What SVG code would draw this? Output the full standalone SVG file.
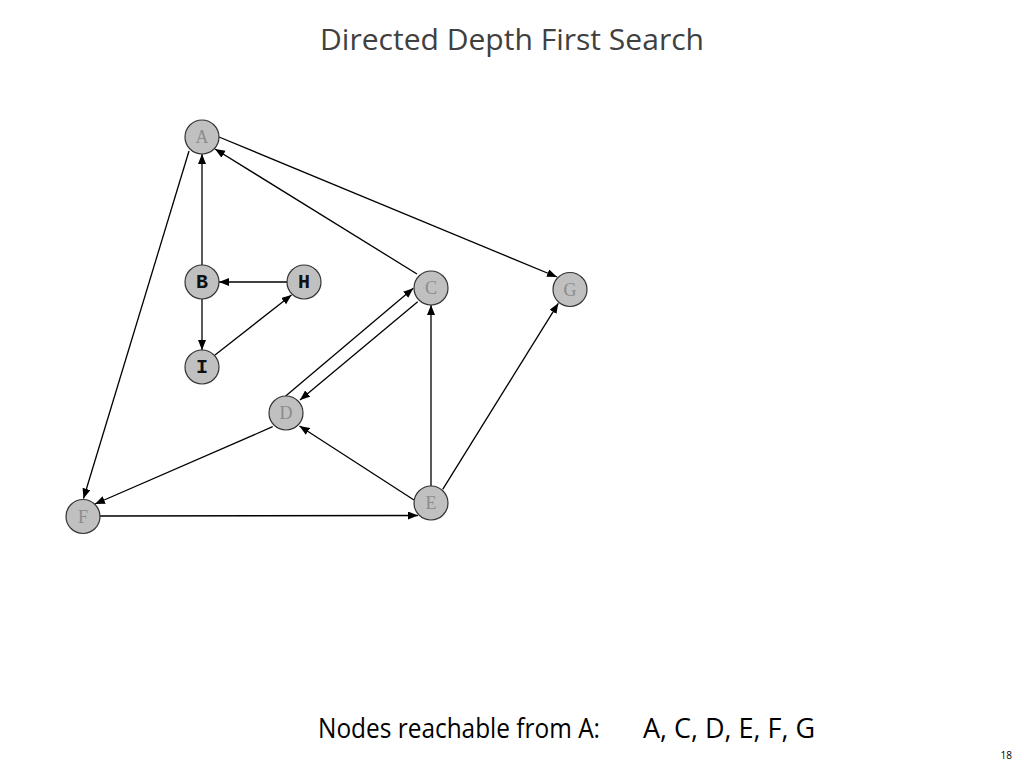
<svg xmlns="http://www.w3.org/2000/svg" width="1024" height="768" viewBox="0 0 1024 768">
<style>
.node circle{fill:#c0c0c0;stroke:#333;stroke-width:1.2}
.lbl{font-family:"Liberation Serif","Times New Roman",serif;font-size:18px;fill:#8c8c8c;text-anchor:middle;dominant-baseline:central}
.lblb{font-family:"Liberation Mono","Courier New",monospace;font-size:20px;font-weight:bold;fill:#111;text-anchor:middle;dominant-baseline:central}
#edges line{stroke:#000;stroke-width:1.3;marker-end:url(#arr)}
.t{font-family:"Open Sans","DejaVu Sans",sans-serif}
</style>
<defs>
<marker id="arr" markerUnits="userSpaceOnUse" markerWidth="11" markerHeight="9" refX="10" refY="4" orient="auto">
<path d="M0,0 L10,4 L0,8 z" fill="#000"/>
</marker>
</defs>
<rect width="1024" height="768" fill="#fff"/>
<text class="t" x="320" y="50" font-size="29" fill="#404040" textLength="384" lengthAdjust="spacingAndGlyphs">Directed Depth First Search</text>
<g id="edges">
<line x1="219" y1="137" x2="557" y2="277"/>
<line x1="417" y1="274" x2="215" y2="149"/>
<line x1="202" y1="265" x2="202" y2="154"/>
<line x1="189" y1="151" x2="83.5" y2="498.5"/>
<line x1="287" y1="282" x2="219" y2="282"/>
<line x1="202" y1="299" x2="202" y2="350"/>
<line x1="215" y1="355" x2="291.5" y2="295"/>
<line x1="285.7" y1="396" x2="413.3" y2="288.3"/>
<line x1="417.7" y1="301.7" x2="300" y2="400"/>
<line x1="272.7" y1="426.7" x2="95" y2="504"/>
<line x1="414" y1="500" x2="299.5" y2="426"/>
<line x1="431" y1="486" x2="431" y2="305"/>
<line x1="442.7" y1="489.3" x2="558.3" y2="303.3"/>
<line x1="99.5" y1="516" x2="418" y2="515.5"/>
</g>
<g id="node-A" class="node"><circle cx="202" cy="137" r="17"/><text class="lbl" x="202" y="137">A</text></g>
<g id="node-B" class="node"><circle cx="202" cy="282" r="17"/><text class="lblb" x="202" y="282">B</text></g>
<g id="node-H" class="node"><circle cx="304" cy="282" r="17"/><text class="lblb" x="304" y="282">H</text></g>
<g id="node-I" class="node"><circle cx="202" cy="367" r="17"/><text class="lblb" x="202" y="367">I</text></g>
<g id="node-C" class="node"><circle cx="431" cy="288" r="17"/><text class="lbl" x="431" y="288">C</text></g>
<g id="node-G" class="node"><circle cx="570" cy="289.5" r="17"/><text class="lbl" x="570" y="289.5">G</text></g>
<g id="node-D" class="node"><circle cx="286" cy="413" r="17"/><text class="lbl" x="286" y="413">D</text></g>
<g id="node-E" class="node"><circle cx="431" cy="503" r="17"/><text class="lbl" x="431" y="503">E</text></g>
<g id="node-F" class="node"><circle cx="83" cy="516.5" r="17"/><text class="lbl" x="83" y="516.5">F</text></g>
<text class="t" x="318" y="738" font-size="27" fill="#000" textLength="282" lengthAdjust="spacingAndGlyphs">Nodes reachable from A:</text>
<text class="t" x="643" y="738" font-size="27" fill="#000" textLength="172" lengthAdjust="spacingAndGlyphs">A, C, D, E, F, G</text>
<text class="t" x="1012" y="759" font-size="10" fill="#000" text-anchor="end">18</text>
</svg>
